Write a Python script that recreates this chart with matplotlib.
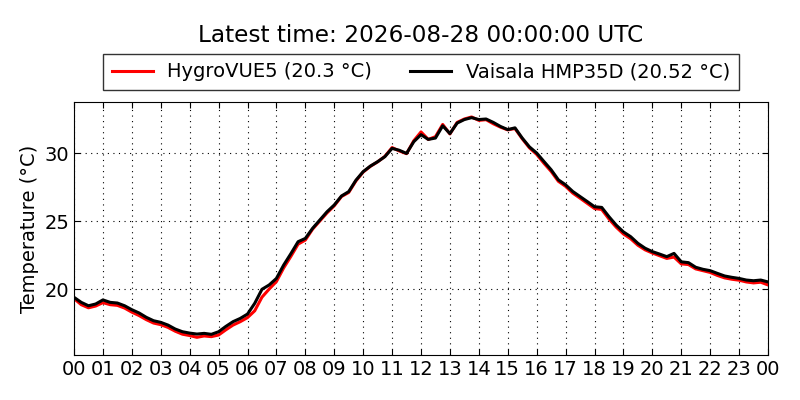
"""
Daily temperature comparison: HygroVUE5 vs Vaisala HMP35D.
"""

import numpy as np
import matplotlib
matplotlib.use("Agg")
import matplotlib.pyplot as plt

# 15-minute readings, 00:00 to 24:00 (hours)
hours = np.arange(0, 24.01, 0.25)

vaisala = [
    19.39, 19.02, 18.77, 18.90, 19.20, 19.02, 18.97, 18.77,
    18.48, 18.24, 17.92, 17.67, 17.55, 17.35, 17.06, 16.86,
    16.76, 16.69, 16.74, 16.67, 16.86, 17.25, 17.60, 17.84,
    18.16, 18.95, 19.98, 20.30, 20.78, 21.76, 22.60, 23.48,
    23.72, 24.46, 25.07, 25.68, 26.18, 26.84, 27.16, 28.00,
    28.63, 29.04, 29.36, 29.73, 30.34, 30.20, 29.97, 30.83,
    31.35, 31.00, 31.10, 32.00, 31.43, 32.20, 32.46, 32.60,
    32.46, 32.50, 32.25, 31.95, 31.72, 31.85, 31.10, 30.45,
    30.00, 29.38, 28.77, 28.03, 27.66, 27.17, 26.80, 26.43,
    26.05, 26.00, 25.32, 24.70, 24.20, 23.85, 23.36, 23.00,
    22.75, 22.57, 22.38, 22.62, 22.00, 21.94, 21.60, 21.45,
    21.35, 21.15, 20.96, 20.86, 20.78, 20.66, 20.61, 20.66,
    20.52,
]

hygrovue = [
    19.30, 18.85, 18.62, 18.75, 19.00, 18.85, 18.80, 18.60,
    18.30, 18.05, 17.75, 17.50, 17.38, 17.18, 16.90, 16.68,
    16.58, 16.45, 16.55, 16.50, 16.62, 17.00, 17.35, 17.60,
    17.90, 18.40, 19.40, 20.00, 20.55, 21.55, 22.40, 23.30,
    23.60, 24.40, 25.00, 25.60, 26.12, 26.80, 27.10, 27.95,
    28.60, 29.02, 29.35, 29.75, 30.40, 30.15, 29.95, 30.90,
    31.55, 31.00, 31.20, 32.10, 31.40, 32.25, 32.50, 32.65,
    32.40, 32.45, 32.15, 31.90, 31.70, 31.80, 31.05, 30.38,
    29.90, 29.25, 28.65, 27.92, 27.55, 27.05, 26.68, 26.30,
    25.92, 25.85, 25.15, 24.55, 24.05, 23.70, 23.22, 22.88,
    22.65, 22.45, 22.25, 22.35, 21.85, 21.80, 21.48, 21.35,
    21.22, 21.00, 20.82, 20.72, 20.65, 20.52, 20.45, 20.50,
    20.30,
]

tick_hours = list(range(0, 25))
tick_labels = [f"{h % 24:02d}" for h in tick_hours]
yticks = [20, 25, 30]

fig = plt.figure(figsize=(8, 4), dpi=100, facecolor="white")
ax = fig.add_axes([0.0925, 0.1125, 0.8675, 0.6325])

ax.plot(hours, hygrovue, color="red", lw=2.2,
        label=f"HygroVUE5 ({hygrovue[-1]:.1f} °C)")
ax.plot(hours, vaisala, color="black", lw=2.2,
        label=f"Vaisala HMP35D ({vaisala[-1]:.2f} °C)")

ax.set_xlim(0, 24)
ax.set_ylim(15.15, 33.75)
ax.set_xticks(tick_hours)
ax.set_xticklabels(tick_labels)
ax.set_yticks(yticks)
ax.tick_params(direction="in", top=True, right=True, labelsize=14, length=4)
ax.grid(True, color="black", linestyle=(0, (1, 4)), linewidth=0.8)
ax.set_ylabel("Temperature (°C)", fontsize=14)

leg = ax.legend(loc="lower center", bbox_to_anchor=(0.5, 1.047), ncol=2,
                fontsize=14, frameon=True, fancybox=False, borderaxespad=0,
                handlelength=2.1, handletextpad=0.75, columnspacing=1.95,
                borderpad=0.45)
leg.get_frame().set_edgecolor("black")
leg.get_frame().set_linewidth(1.0)

ax.set_title("Latest time: 2026-08-28 00:00:00 UTC", fontsize=16.7, y=1.0, pad=0)
ax.title.set_position((0.5, 1 + 67 / 253))
ax.title.set_va("center")

plt.savefig("out.png", dpi=100)
